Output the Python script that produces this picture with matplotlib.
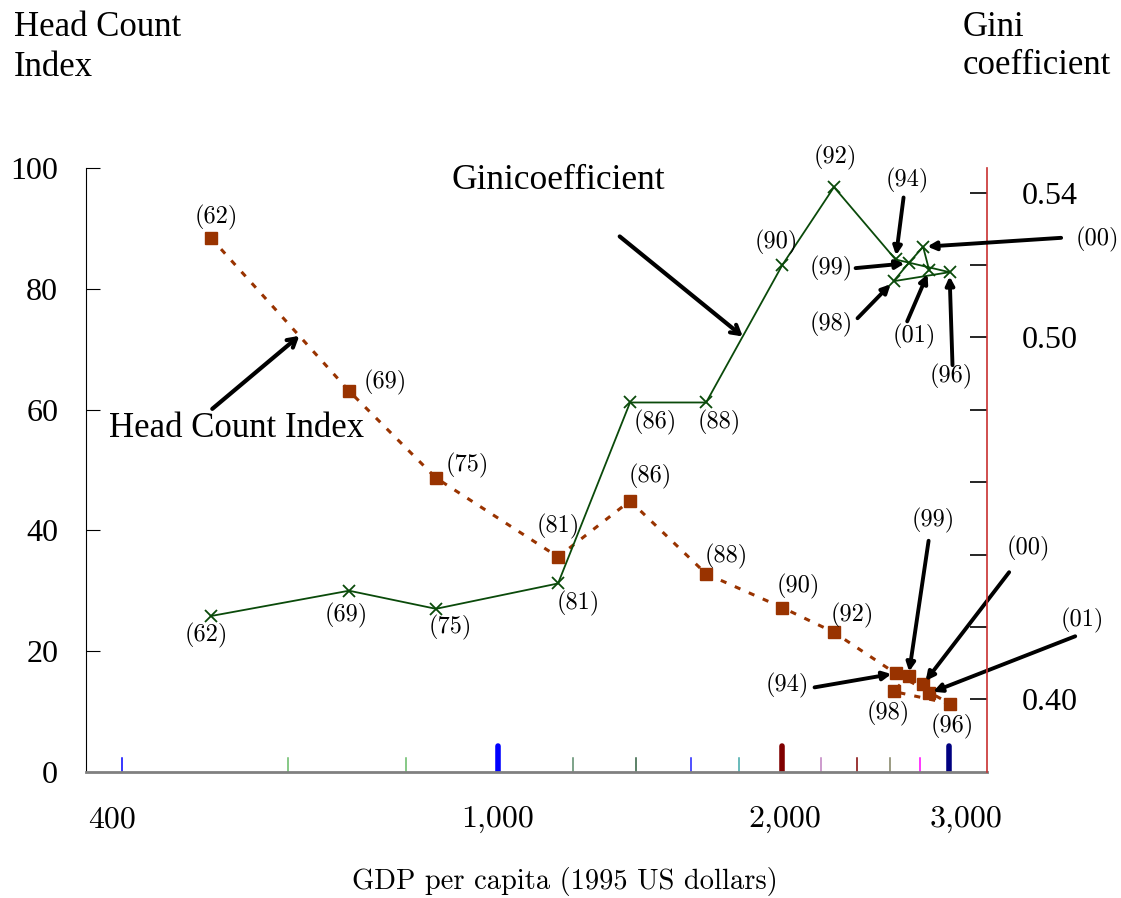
import numpy as np
import matplotlib
matplotlib.use('Agg')
import matplotlib.pyplot as plt

# data
years = ['62', '69', '75', '81', '86', '88', '90', '92', '94', '96', '98', '99', '00', '01']
gdp = [497, 696, 860, 1158, 1380, 1661, 2000, 2268, 2635, 3005, 2622, 2720, 2818, 2860]
head_count = [88.5, 63.1, 48.7, 35.6, 44.9, 32.8, 27.2, 23.1, 16.3, 11.3, 13.3, 15.9, 14.5, 13.0]
gini = [0.423, 0.430, 0.425, 0.432, 0.482, 0.482, 0.520, 0.5415,
        0.5215, 0.518, 0.5155, 0.5205, 0.525, 0.5185]

xtick_vals = [400, 1000, 2000, 3000]
xtick_text = ['400', '1,000', '2,000', '3,000']
gini_ticks = [0.40, 0.42, 0.44, 0.46, 0.48, 0.50, 0.52, 0.54]
gini_ticklabels = ['0.40', '', '', '', '', '0.50', '', '0.54']

# decorative tick marks on the x axis
minor_x = [400, 600, 800, 1200, 1400, 1600, 1800, 2200, 2400, 2600, 2800]
minor_col = ['#0000ff', '#66bb66', '#66bb66', '#5a8a6a', '#2f5f3f', '#2020ff',
             '#40a8a8', '#c080c0', '#800000', '#808060', '#ff00ff']
major_x = [1000, 2000, 3000]
major_col = ['#0000ff', '#800000', '#000080']
gini_tick_col = ['#6080b0', '#6080b0', '#6080b0', '#000000', '#709070',
                 '#a00000', '#88aaff', '#a00000']

brown = '#993300'
green = '#0a4a0a'
num_font = 'Liberation Serif'
cm_font = 'cmr10'

# label offsets (pixels) relative to each point
hc_lab = {'62': (5, 20), '69': (36, 9), '75': (31, 12), '81': (0, 30), '86': (20, 24),
          '88': (20, 17), '90': (16, 21), '92': (18, 17), '98': (-5, -22), '96': (3, -23)}
gini_lab = {'62': (-5, -19), '69': (-3, -25), '75': (14, -19), '81': (20, -20),
            '86': (25, -20), '88': (13, -20), '90': (-6, 22), '92': (1, 30)}
# (text offset, arrow tail offset)
hc_arrow = {'94': ((-108, -12), (-81, -14)), '99': ((25, 155), (20, 135)),
            '00': ((105, 136), (86, 112)), '01': ((153, 73), (146, 57))}
gini_arrow = {'94': ((12, 79), (8, 62)), '99': ((-77, -5), (-53, -5)),
              '98': ((-62, -43), (-36, -37)), '01': ((-15, -66), (-22, -51)),
              '96': ((2, -104), (3, -93)), '00': ((174, 7), (138, 9))}

fig = plt.figure(figsize=(11.21, 8.98), dpi=100)
ax = fig.add_axes([86/1121, 126.3/898, 900.7/1121, 603.3/898])
ax.set_xscale('log')
ax.set_xlim(366.7, 3290)
ax.set_ylim(0, 100)
ax2 = ax.twinx()
ax2.set_ylim(0.38, 0.38 + 100/600)

for s in ['top', 'right']:
    ax.spines[s].set_visible(False)
ax.spines['left'].set_color('black')
ax.spines['bottom'].set_color('#808080')
ax.spines['bottom'].set_linewidth(2)
for s in ['top', 'left', 'bottom']:
    ax2.spines[s].set_visible(False)
ax2.spines['right'].set_color('#c83030')
ax2.spines['right'].set_linewidth(1.2)

ax.xaxis.set_minor_locator(matplotlib.ticker.NullLocator())
ax.set_xticks([])
ax.set_yticks([0, 20, 40, 60, 80, 100])
ax.tick_params(axis='y', direction='in', length=10, pad=20, labelsize=23)
for lab in ax.get_yticklabels():
    lab.set_family(num_font)

ax2.set_yticks(gini_ticks)
ax2.set_yticklabels(gini_ticklabels)
ax2.tick_params(axis='y', direction='in', length=12, width=1.2, pad=25, labelsize=23)
for t, c in zip(ax2.yaxis.get_major_ticks(), gini_tick_col):
    t.tick2line.set_color(c)
for lab in ax2.get_yticklabels():
    lab.set_family(num_font)

for x, c in zip(minor_x, minor_col):
    ax.axvline(x, 0, 0.022, color=c, lw=1.1)
for x, c in zip(major_x, major_col):
    ax.axvline(x, 0, 0.043, color=c, lw=4, solid_capstyle='round')

# x tick labels placed under the axis
xt_shift = [-10, 0, 2, 17]
for v, t, dx in zip(xtick_vals, xtick_text, xt_shift):
    ax.annotate(t, xy=(v, 0), xycoords=('data', 'axes fraction'), xytext=(dx, -48),
                textcoords='offset pixels', ha='center', va='center',
                family=cm_font, fontsize=23, annotation_clip=False)

fig.text(565/1121, 1 - 882/898, 'GDP per capita (1995 US dollars)', ha='center',
         va='center', family=cm_font, fontsize=20.5)

# series
ax.plot(gdp, head_count, color=brown, ls=(0, (2, 3)), lw=2.2, marker='s', ms=8,
        mfc=brown, mec=brown, zorder=3)
ax2.plot(gdp, gini, color=green, lw=1.3, marker='x', ms=9, mew=1.3, zorder=3)

arrow_kw = dict(arrowstyle='-|>,head_length=0.5,head_width=0.25', lw=2.8,
                color='black', shrinkA=0, shrinkB=3)
lab_size = 17.5

for i, y in enumerate(years):
    if y in hc_lab:
        ax.annotate('(' + y + ')', xy=(gdp[i], head_count[i]), xytext=hc_lab[y],
                    textcoords='offset pixels', ha='center', va='center',
                    family=cm_font, fontsize=lab_size)
    if y in gini_lab:
        ax2.annotate('(' + y + ')', xy=(gdp[i], gini[i]), xytext=gini_lab[y],
                     textcoords='offset pixels', ha='center', va='center',
                     family=cm_font, fontsize=lab_size)
    if y in hc_arrow:
        txt, tail = hc_arrow[y]
        ax.annotate('', xy=(gdp[i], head_count[i]), xytext=tail,
                    textcoords='offset pixels', arrowprops=arrow_kw, annotation_clip=False)
        ax.annotate('(' + y + ')', xy=(gdp[i], head_count[i]), xytext=txt,
                    textcoords='offset pixels', ha='center', va='center',
                    family=cm_font, fontsize=lab_size, annotation_clip=False)
    if y in gini_arrow:
        txt, tail = gini_arrow[y]
        ax2.annotate('', xy=(gdp[i], gini[i]), xytext=tail,
                     textcoords='offset pixels', arrowprops=arrow_kw, annotation_clip=False)
        ax2.annotate('(' + y + ')', xy=(gdp[i], gini[i]), xytext=txt,
                     textcoords='offset pixels', ha='center', va='center',
                     family=cm_font, fontsize=lab_size, annotation_clip=False)

# series name labels with arrows pointing at the lines
big_kw = dict(arrowstyle='->,head_length=0.6,head_width=0.35', lw=3, color='black',
              shrinkA=0, shrinkB=0)
t = 0.64
hx = gdp[0] ** (1 - t) * gdp[1] ** t
hy = head_count[0] * (1 - t) + head_count[1] * t
ax.annotate('', xy=(hx, hy), xytext=(-87, -73), textcoords='offset pixels', arrowprops=big_kw)
ax.annotate('Head Count Index', xy=(hx, hy), xytext=(-63, -93), textcoords='offset pixels',
            ha='center', va='center', family=num_font, fontsize=25)

t = 0.48
gx = gdp[5] ** (1 - t) * gdp[6] ** t
gy = gini[5] * (1 - t) + gini[6] * t
ax2.annotate('', xy=(gx, gy), xytext=(-123, 100), textcoords='offset pixels', arrowprops=big_kw)
ax2.annotate('Ginicoefficient', xy=(gx, gy), xytext=(-184, 156), textcoords='offset pixels',
             ha='center', va='center', family=num_font, fontsize=25.5)

# axis titles
fig.text(14/1121, 1 - 28/898, 'Head Count', ha='left', va='center', family=num_font, fontsize=25)
fig.text(14/1121, 1 - 68/898, 'Index', ha='left', va='center', family=num_font, fontsize=25)
fig.text(963/1121, 1 - 27/898, 'Gini', ha='left', va='center', family=num_font, fontsize=25)
fig.text(963/1121, 1 - 66/898, 'coefficient', ha='left', va='center', family=num_font, fontsize=25)

fig.savefig('out.png', dpi=100)
